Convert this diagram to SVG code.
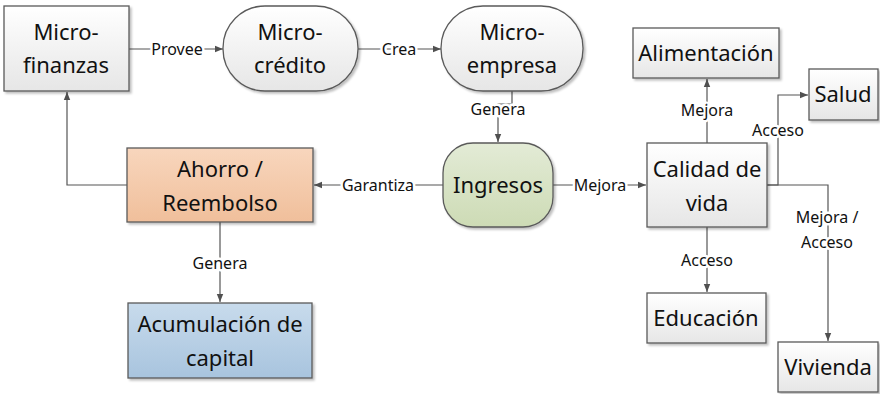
<svg xmlns="http://www.w3.org/2000/svg" width="880" height="394" viewBox="0 0 880 394">
<defs>
<linearGradient id="gGray" x1="0" y1="0" x2="0" y2="1"><stop offset="0" stop-color="#ffffff"/><stop offset="1" stop-color="#e6e6e6"/></linearGradient>
<linearGradient id="gOrange" x1="0" y1="0" x2="0" y2="1"><stop offset="0" stop-color="#f8d6bd"/><stop offset="1" stop-color="#f0bf9b"/></linearGradient>
<linearGradient id="gGreen" x1="0" y1="0" x2="0" y2="1"><stop offset="0" stop-color="#e3ebd6"/><stop offset="1" stop-color="#cddbb5"/></linearGradient>
<linearGradient id="gBlue" x1="0" y1="0" x2="0" y2="1"><stop offset="0" stop-color="#c8dbec"/><stop offset="1" stop-color="#a8c4de"/></linearGradient>
<filter id="sh" x="-10%" y="-10%" width="130%" height="130%"><feDropShadow dx="2" dy="2" stdDeviation="1" flood-color="#000" flood-opacity="0.25"/></filter>
<marker id="arr" viewBox="0 0 10 10" refX="10" refY="5" markerWidth="8" markerHeight="8" markerUnits="userSpaceOnUse" orient="auto"><path d="M0,1 L10,5 L0,9 Z" fill="#505050"/></marker>
</defs>
<style>
.node{stroke:#5a5a5a;stroke-width:1.3;filter:url(#sh)}
.nt{font-family:"Noto Sans","Open Sans",sans-serif;font-size:22px;fill:#111;text-anchor:middle}
.c{fill:none;stroke:#555;stroke-width:1.2;marker-end:url(#arr)}
.lb{font-family:"Noto Sans","Open Sans",sans-serif;font-size:16px;fill:#111;text-anchor:middle;stroke:#fff;stroke-width:5;paint-order:stroke;stroke-linejoin:round}
</style>
<g id="connectors">
<path class="c" d="M129,49 H223"/>
<path class="c" d="M358,49 H441"/>
<path class="c" d="M512,91 V104 H498 V142"/>
<path class="c" d="M443,185 H314"/>
<path class="c" d="M553,185 H646"/>
<path class="c" d="M127,185 H67 V92"/>
<path class="c" d="M220,222 V302"/>
<path class="c" d="M707,143 V79"/>
<path class="c" d="M767,185 H778 V95 H808"/>
<path class="c" d="M767,185 H828 V341"/>
<path class="c" d="M707,227 V292"/>
<text class="lb" x="177" y="55">Provee</text>
<text class="lb" x="399" y="55">Crea</text>
<text class="lb" x="498" y="115">Genera</text>
<text class="lb" x="378" y="191">Garantiza</text>
<text class="lb" x="600" y="191">Mejora</text>
<text class="lb" x="707" y="116">Mejora</text>
<text class="lb" x="778" y="136">Acceso</text>
<text class="lb" x="827" y="223">Mejora /</text>
<text class="lb" x="827" y="248">Acceso</text>
<text class="lb" x="707" y="266">Acceso</text>
<text class="lb" x="220" y="269">Genera</text>
</g>
<g id="microfinanzas"><rect class="node" x="4" y="6" width="125" height="85" fill="url(#gGray)"/><text class="nt" x="66" y="40">Micro-</text><text class="nt" x="66" y="73">finanzas</text></g>
<g id="microcredito"><rect class="node" x="223" y="6" width="135" height="85" rx="42" fill="url(#gGray)"/><text class="nt" x="290" y="40">Micro-</text><text class="nt" x="290" y="73">crédito</text></g>
<g id="microempresa"><rect class="node" x="441" y="6" width="142" height="85" rx="42" fill="url(#gGray)"/><text class="nt" x="512" y="40">Micro-</text><text class="nt" x="512" y="73">empresa</text></g>
<g id="ahorro"><rect class="node" x="127" y="148" width="186" height="74" fill="url(#gOrange)"/><text class="nt" x="220" y="177">Ahorro /</text><text class="nt" x="220" y="211">Reembolso</text></g>
<g id="ingresos"><rect class="node" x="443" y="143" width="110" height="84" rx="30" fill="url(#gGreen)"/><text class="nt" x="498" y="193" font-size="24">Ingresos</text></g>
<g id="calidad"><rect class="node" x="647" y="143" width="120" height="84" fill="url(#gGray)"/><text class="nt" x="707" y="177">Calidad de</text><text class="nt" x="707" y="211">vida</text></g>
<g id="alimentacion"><rect class="node" x="633" y="28" width="146" height="50" fill="url(#gGray)"/><text class="nt" x="706" y="61">Alimentación</text></g>
<g id="salud"><rect class="node" x="809" y="69" width="69" height="51" fill="url(#gGray)"/><text class="nt" x="843" y="102">Salud</text></g>
<g id="educacion"><rect class="node" x="647" y="293" width="119" height="50" fill="url(#gGray)"/><text class="nt" x="706" y="326">Educación</text></g>
<g id="vivienda"><rect class="node" x="778" y="342" width="100" height="50" fill="url(#gGray)"/><text class="nt" x="828" y="375">Vivienda</text></g>
<g id="acumulacion"><rect class="node" x="128" y="303" width="184" height="75" fill="url(#gBlue)"/><text class="nt" x="220" y="332">Acumulación de</text><text class="nt" x="220" y="366">capital</text></g>
</svg>
